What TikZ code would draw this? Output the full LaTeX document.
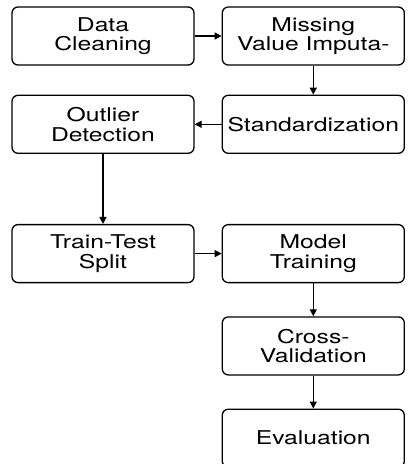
\documentclass[tikz,border=0pt]{standalone}
\usepackage{fontspec}
\setmainfont{TeX Gyre Heros}[FakeStretch=1.3]
\usepackage{tikz}
\usetikzlibrary{arrows.meta, positioning}

\begin{document}
\begin{tikzpicture}[node distance=27pt]
    \tikzstyle{stage} = [rectangle, rounded corners=6pt, minimum width=182pt, minimum height=58pt, inner sep=0pt, align=center, draw=black, line width=1.3pt, font=\fontsize{19}{19.5}\selectfont]
    \tikzstyle{arrow} = [line width=1.3pt, -{Triangle[length=7pt,width=7pt]}]

    \useasboundingbox (0,0) rectangle (409pt,-464pt);

    \node (clean) [stage] at (103pt,-36pt) {Data\\Cleaning};
    \node (impute) [stage, right=of clean] {Missing\\Value Imputa-};
    \node (std) [stage, below=29pt of impute] {Standardization};
    \node (outlier) [stage, left=of std] {Outlier\\Detection};
    \node (split) [stage, below=70pt of outlier] {Train-Test\\Split};
    \node (train) [stage, right=of split] {Model\\Training};
    \node (cv) [stage, below=33pt of train] {Cross-\\Validation};
    \node (eval) [stage, below=33pt of cv] {Evaluation};

    \draw [arrow] (clean) -- (impute);
    \draw [arrow] (impute) -- (std);
    \draw [arrow] (std) -- (outlier);
    \draw [arrow] (outlier) -- (split);
    \draw [arrow] (split) -- (train);
    \draw [arrow] (train) -- (cv);
    \draw [arrow] (cv) -- (eval);

\end{tikzpicture}
\end{document}
